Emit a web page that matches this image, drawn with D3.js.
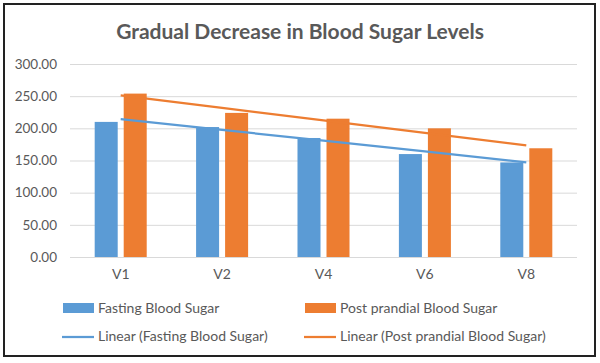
<!DOCTYPE html>
<html>
<head>
<meta charset="utf-8">
<script src="https://cdn.jsdelivr.net/npm/d3@7"></script>
<style>
body{margin:0;background:#fff}
svg{display:block}
text{font-family:Lato,"Open Sans",sans-serif}
</style>
</head>
<body>
<svg id="chart" width="600" height="363"></svg>
<script>
let visits=["V1","V2","V4","V6","V8"]
let fasting=[210,202,185,160,147]
let postprandial=[254,224,215,200,169]
let yTicks=[0,50,100,150,200,250,300]
let seriesNames=["Fasting Blood Sugar","Post prandial Blood Sugar"]
let colors=["#5B9BD5","#ED7D31"]

let svg=d3.select("#chart")

// chart border
svg.append("rect")
.attr("x",4).attr("y",4).attr("width",591).attr("height",352)
.attr("fill","#fff").attr("stroke","#222").attr("stroke-width",2)

svg.append("text")
.attr("x",300).attr("y",39)
.attr("text-anchor","middle")
.attr("font-size",21).attr("font-weight","bold")
.attr("fill","#595959")
.text("Gradual Decrease in Blood Sugar Levels")

let x0=d3.scaleBand().domain(visits).range([70,577]).paddingInner(0.487).paddingOuter(0.2435)
let x1=d3.scaleBand().domain([0,1]).range([0,x0.bandwidth()]).paddingInner(0.207)
let y=d3.scaleLinear().domain([0,300]).range([257,64])

// grid + y labels
let yAxis=svg.append("g")
.attr("transform","translate(70,0)")
.call(d3.axisLeft(y).tickValues(yTicks).tickSize(-507).tickFormat(d3.format(".2f")))
yAxis.select(".domain").remove()
yAxis.selectAll("line").attr("stroke","#d9d9d9")
yAxis.selectAll("text").attr("x",-13).attr("font-size",13.5).attr("fill","#595959")
.attr("font-family","Lato,'Open Sans',sans-serif")

// bars
let series=[fasting,postprandial]
series.forEach((vals,s)=>{
svg.append("g").selectAll("rect")
.data(vals)
.enter()
.append("rect")
.attr("x",(d,i)=>x0(visits[i])+x1(s))
.attr("width",x1.bandwidth())
.attr("y",d=>y(d))
.attr("height",d=>y(0)-y(d))
.attr("fill",colors[s])
})

// x labels
let xAxis=svg.append("g")
.attr("transform","translate(0,257)")
.call(d3.axisBottom(x0).tickSize(0).tickPadding(12))
xAxis.select(".domain").remove()
xAxis.selectAll("text").attr("font-size",14).attr("fill","#595959")
.attr("font-family","Lato,'Open Sans',sans-serif")

// linear trendlines (least squares over visit index)
function trend(vals){
let xs=vals.map((d,i)=>i+1)
let mx=d3.mean(xs), my=d3.mean(vals)
let slope=d3.sum(xs,(xv,i)=>(xv-mx)*(vals[i]-my))/d3.sum(xs,xv=>(xv-mx)*(xv-mx))
return xs.map(xv=>my+slope*(xv-mx))
}
let trendLine=d3.line()
.x((d,i)=>x0(visits[i])+x0.bandwidth()/2)
.y(d=>y(d))
series.forEach((vals,s)=>{
svg.append("path")
.datum(trend(vals))
.attr("d",trendLine)
.attr("fill","none").attr("stroke",colors[s]).attr("stroke-width",2.25)
})

// legend
let legendX=[63,305]
seriesNames.forEach((name,s)=>{
let g=svg.append("g")
g.append("rect").attr("x",legendX[s]).attr("y",303).attr("width",31).attr("height",10)
.attr("fill",colors[s])
g.append("text").attr("x",legendX[s]+35).attr("y",313)
.attr("font-size",14).attr("fill","#595959").text(name)
g.append("line").attr("x1",legendX[s]-1).attr("x2",legendX[s]+31)
.attr("y1",337).attr("y2",337).attr("stroke",colors[s]).attr("stroke-width",2.25)
g.append("text").attr("x",legendX[s]+35).attr("y",341)
.attr("font-size",14).attr("fill","#595959").text("Linear ("+name+")")
})
</script>
</body>
</html>
